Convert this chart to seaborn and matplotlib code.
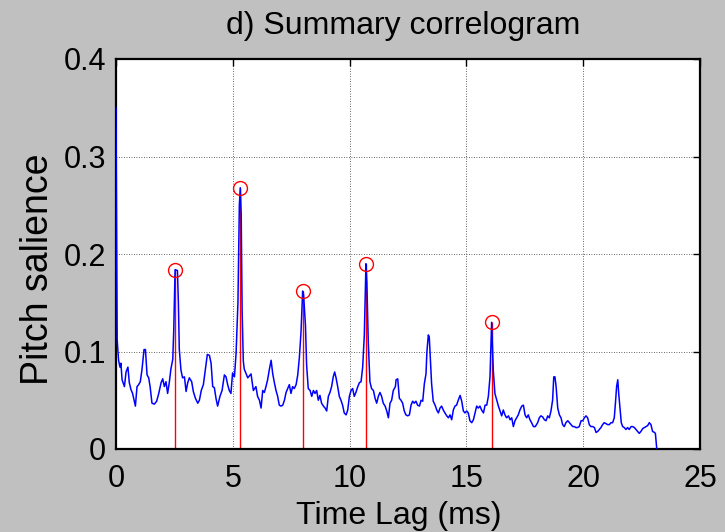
import matplotlib
matplotlib.use("Agg")
import matplotlib.pyplot as plt
import pandas as pd
import seaborn as sns

# Summary correlogram: time lag (ms) and pitch salience
lag_ms = [
    0.00, 0.02, 0.05, 0.11, 0.17, 0.21, 0.26, 0.36, 0.43, 0.51,
    0.57, 0.64, 0.71, 0.83, 0.90, 0.97, 1.04, 1.11, 1.20, 1.26,
    1.33, 1.40, 1.46, 1.54, 1.64, 1.74, 1.83, 1.93, 2.00, 2.07,
    2.14, 2.21, 2.28, 2.35, 2.43, 2.47, 2.51, 2.53, 2.63, 2.67,
    2.71, 2.78, 2.85, 2.93, 3.00, 3.07, 3.14, 3.24, 3.31, 3.40,
    3.50, 3.57, 3.65, 3.74, 3.82, 3.91, 4.00, 4.07, 4.14, 4.21,
    4.28, 4.35, 4.45, 4.54, 4.64, 4.71, 4.78, 4.85, 4.92, 4.99,
    5.07, 5.14, 5.22, 5.28, 5.32, 5.36, 5.40, 5.45, 5.49, 5.64,
    5.78, 5.88, 5.99,
    6.06, 6.14, 6.21, 6.28, 6.35, 6.42, 6.49, 6.56, 6.64, 6.71,
    6.78, 6.85, 6.92, 6.99, 7.06, 7.14, 7.21, 7.28, 7.35, 7.42,
    7.49, 7.56, 7.63, 7.71, 7.78, 7.85, 7.92, 7.99, 8.03, 8.11,
    8.16, 8.23, 8.31, 8.38, 8.45, 8.52, 8.59, 8.66, 8.73, 8.80,
    8.88, 8.95, 9.02, 9.09, 9.16, 9.23, 9.30, 9.36, 9.42, 9.49,
    9.56, 9.63, 9.70, 9.77, 9.85, 9.92, 9.99, 10.06, 10.13, 10.20,
    10.27, 10.35, 10.42, 10.49, 10.56, 10.63, 10.70, 10.74, 10.80, 10.87,
    10.94, 11.02, 11.09, 11.16, 11.23, 11.30, 11.37, 11.44, 11.52, 11.59,
    11.66, 11.73, 11.80, 11.87, 11.96,
    11.99, 12.06, 12.13, 12.20, 12.27, 12.34, 12.41, 12.49, 12.56, 12.63,
    12.70, 12.77, 12.84, 12.91, 12.99, 13.06, 13.13, 13.20, 13.27, 13.31,
    13.37, 13.41, 13.46, 13.51, 13.58, 13.66, 13.73, 13.80, 13.87, 13.94,
    14.01, 14.08, 14.16, 14.23, 14.30, 14.37, 14.44, 14.51, 14.58, 14.65,
    14.73, 14.80, 14.87, 14.94, 15.01, 15.08, 15.15, 15.23, 15.30, 15.37,
    15.44, 15.51, 15.58, 15.65, 15.73, 15.80, 15.87, 15.94, 16.01, 16.08,
    16.15, 16.22, 16.30, 16.37, 16.44, 16.51, 16.58, 16.65, 16.72, 16.80,
    16.87, 16.94, 17.01, 17.08, 17.15, 17.22, 17.29, 17.37, 17.44, 17.51,
    17.58, 17.65, 17.72, 17.79, 17.87, 17.95,
    18.05, 18.12, 18.19, 18.26, 18.34, 18.41, 18.48, 18.55, 18.62, 18.69,
    18.74, 18.79, 18.84, 18.91, 18.98, 19.05, 19.12, 19.19, 19.26, 19.34,
    19.41, 19.48, 19.55, 19.62, 19.69, 19.76, 19.83, 19.91, 19.98, 20.05,
    20.12, 20.19, 20.26, 20.33, 20.41, 20.48, 20.55, 20.62, 20.69, 20.76,
    20.83, 20.90, 20.98, 21.05, 21.12, 21.19, 21.26, 21.33, 21.38, 21.43,
    21.48, 21.52, 21.58, 21.63, 21.69, 21.76, 21.83, 21.90, 21.97, 22.05,
    22.12, 22.19, 22.26, 22.33, 22.40, 22.47, 22.55, 22.62, 22.69, 22.76,
    22.83, 22.90, 22.97, 23.05, 23.09, 23.15,
]

salience = [
    0.350, 0.250, 0.112, 0.091, 0.084, 0.088, 0.071, 0.064, 0.079, 0.084,
    0.068, 0.061, 0.057, 0.044, 0.064, 0.066, 0.069, 0.081, 0.102, 0.102,
    0.076, 0.073, 0.064, 0.047, 0.046, 0.049, 0.057, 0.068, 0.072, 0.064,
    0.069, 0.057, 0.068, 0.082, 0.092, 0.120, 0.160, 0.184, 0.183, 0.150,
    0.102, 0.081, 0.073, 0.074, 0.059, 0.068, 0.073, 0.069, 0.059, 0.052,
    0.047, 0.050, 0.060, 0.066, 0.081, 0.097, 0.096, 0.088, 0.064, 0.063,
    0.052, 0.044, 0.054, 0.060, 0.076, 0.074, 0.066, 0.060, 0.057, 0.078,
    0.074, 0.098, 0.150, 0.250, 0.268, 0.240, 0.140, 0.090, 0.082, 0.073,
    0.077, 0.060, 0.064,
    0.054, 0.050, 0.042, 0.060, 0.058, 0.064, 0.071, 0.081, 0.091, 0.077,
    0.068, 0.060, 0.054, 0.045, 0.044, 0.045, 0.050, 0.058, 0.062, 0.066,
    0.057, 0.064, 0.062, 0.066, 0.076, 0.094, 0.120, 0.162, 0.158, 0.127,
    0.086, 0.062, 0.060, 0.054, 0.060, 0.057, 0.060, 0.050, 0.055, 0.047,
    0.044, 0.042, 0.039, 0.054, 0.058, 0.064, 0.074, 0.079, 0.073, 0.064,
    0.054, 0.050, 0.045, 0.037, 0.035, 0.040, 0.054, 0.060, 0.062, 0.054,
    0.058, 0.064, 0.068, 0.069, 0.084, 0.117, 0.190, 0.170, 0.109, 0.069,
    0.062, 0.060, 0.052, 0.047, 0.054, 0.058, 0.054, 0.047, 0.044, 0.039,
    0.032, 0.047, 0.050, 0.060, 0.064,
    0.071, 0.072, 0.052, 0.050, 0.047, 0.039, 0.035, 0.034, 0.035, 0.045,
    0.049, 0.047, 0.049, 0.045, 0.044, 0.050, 0.049, 0.067, 0.077, 0.100,
    0.117, 0.115, 0.091, 0.067, 0.049, 0.045, 0.040, 0.037, 0.042, 0.044,
    0.040, 0.037, 0.034, 0.032, 0.035, 0.030, 0.040, 0.044, 0.045, 0.050,
    0.055, 0.049, 0.039, 0.037, 0.039, 0.037, 0.029, 0.027, 0.030, 0.037,
    0.044, 0.042, 0.044, 0.040, 0.037, 0.045, 0.045, 0.054, 0.074, 0.130,
    0.081, 0.057, 0.050, 0.044, 0.039, 0.034, 0.040, 0.035, 0.032, 0.034,
    0.030, 0.032, 0.023, 0.029, 0.032, 0.035, 0.040, 0.044, 0.045, 0.035,
    0.032, 0.035, 0.030, 0.027, 0.023, 0.023,
    0.027, 0.032, 0.034, 0.033, 0.030, 0.029, 0.034, 0.032, 0.039, 0.050,
    0.074, 0.074, 0.064, 0.042, 0.035, 0.032, 0.025, 0.023, 0.027, 0.029,
    0.027, 0.025, 0.023, 0.023, 0.022, 0.022, 0.023, 0.029, 0.029, 0.032,
    0.034, 0.032, 0.025, 0.023, 0.023, 0.022, 0.017, 0.018, 0.020, 0.022,
    0.025, 0.027, 0.026, 0.025, 0.025, 0.027, 0.027, 0.032, 0.047, 0.064,
    0.071, 0.057, 0.040, 0.027, 0.023, 0.022, 0.020, 0.022, 0.020, 0.023,
    0.023, 0.022, 0.020, 0.018, 0.016, 0.018, 0.021, 0.022, 0.023, 0.024,
    0.027, 0.025, 0.018, 0.017, 0.016, 0.000,
]

# Detected pitch peaks (stems with circle heads)
peak_lag_ms = [2.53, 5.32, 7.99, 10.70, 16.08]
peak_salience = [0.184, 0.268, 0.162, 0.190, 0.130]

x_ticks = [0, 5, 10, 15, 20, 25]
y_ticks = [0, 0.1, 0.2, 0.3, 0.4]
y_tick_labels = ["0", "0.1", "0.2", "0.3", "0.4"]

sns.set_style("white")
plt.rcParams["font.family"] = ["Liberation Sans", "DejaVu Sans"]
plt.rcParams["text.color"] = "black"
plt.rcParams["axes.labelcolor"] = "black"
plt.rcParams["xtick.color"] = "black"
plt.rcParams["ytick.color"] = "black"

W, H = 725, 532
fig = plt.figure(figsize=(W / 100, H / 100), dpi=100, facecolor="#c0c0c0")
ax = fig.add_axes([116 / W, 1 - 449 / H, 584 / W, 390 / H])
ax.set_facecolor("white")

df = pd.DataFrame({"lag": lag_ms, "salience": salience})

ax.vlines(peak_lag_ms, 0, peak_salience, colors="#ff0000", linewidth=1.0, zorder=2)
sns.lineplot(data=df, x="lag", y="salience", color="#0000ff", linewidth=1.1,
             estimator=None, sort=False, ax=ax, zorder=3)
ax.plot(peak_lag_ms, peak_salience, linestyle="none", marker="o", markersize=10,
        markerfacecolor="none", markeredgecolor="#ff0000", markeredgewidth=1.0, zorder=4)

ax.set_xlim(0, 25)
ax.set_ylim(0, 0.4)
ax.set_xticks(x_ticks)
ax.set_xticklabels([str(t) for t in x_ticks])
ax.set_yticks(y_ticks)
ax.set_yticklabels(y_tick_labels)

ax.grid(True, color="black", linestyle=(0, (1, 2)), linewidth=0.6, alpha=0.8)
ax.set_axisbelow(True)
for side in ["left", "right", "top", "bottom"]:
    ax.spines[side].set_visible(True)
    ax.spines[side].set_color("black")
    ax.spines[side].set_linewidth(1.6)

ax.tick_params(axis="both", which="major", direction="in", length=5, width=1,
               top=True, right=True, labelsize=22, colors="black")
ax.tick_params(axis="x", pad=11)
ax.tick_params(axis="y", pad=7)

ax.set_title("d) Summary correlogram", fontsize=23, color="black", pad=18)
ax.title.set_position((0.492, 1.0))

ax.set_xlabel("Time Lag (ms)", fontsize=23)
ax.xaxis.label.set_verticalalignment("baseline")
ax.xaxis.set_label_coords(0.485, -0.192)

ax.set_ylabel("Pitch salience", fontsize=27)
ax.yaxis.set_label_coords(-0.102, 0.462)

fig.savefig("out.png", dpi=100, facecolor=fig.get_facecolor())
